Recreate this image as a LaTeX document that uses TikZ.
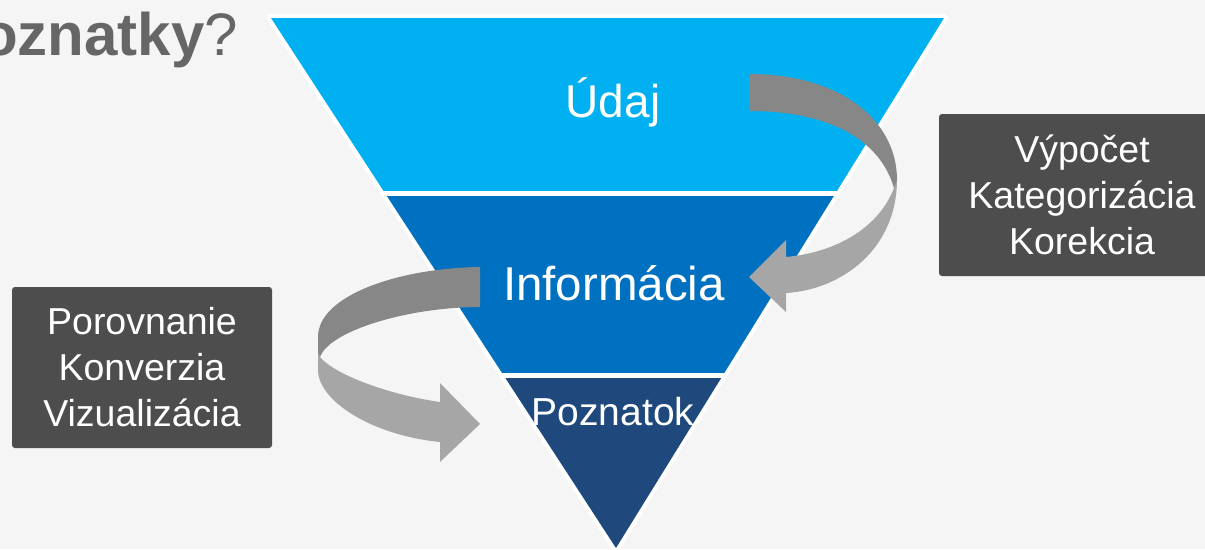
\documentclass[tikz,border=0pt]{standalone}
\usepackage{fontspec}
\setmainfont{Liberation Sans}
\usepackage{tikz}
\usetikzlibrary{positioning}
\definecolor{bgray}{HTML}{F5F5F5}
\definecolor{udajblue}{HTML}{00B0F0}
\definecolor{infoblue}{HTML}{0070C0}
\definecolor{poznblue}{HTML}{1F497D}
\definecolor{ribbondark}{HTML}{878787}
\definecolor{ribbonlight}{HTML}{A6A6A6}
\definecolor{boxgray}{HTML}{4D4D4D}
\definecolor{titlegray}{HTML}{666666}
\tikzstyle{bandtext}=[text=white,inner sep=0pt,anchor=base]
\tikzstyle{procbox}=[fill=boxgray,text=white,rounded corners=3pt,align=center,inner sep=0pt,font=\fontsize{37.5}{46}\selectfont]
\tikzstyle{darkpart}=[fill=ribbondark]
\tikzstyle{lightpart}=[fill=ribbonlight]

\begin{document}
\begin{tikzpicture}[x=1pt,y=-1pt]
\clip (0,0) rectangle (1205,549);
\fill[bgray] (0,0) rectangle (1205,549);
% title
\node[anchor=base east,inner sep=0pt,text=titlegray,font=\fontsize{60}{72}\selectfont] (title) at (238,55) {\textbf{oznatky}?};
% funnel
\fill[white,draw=white,line width=8pt,line join=round] (271,18) -- (944,18) -- (616,548) -- cycle;
\begin{scope}
\clip (271,18) -- (944,18) -- (616,548) -- cycle;
\fill[udajblue] (250,0) rectangle (960,191);
\fill[infoblue] (250,196) rectangle (960,373);
\fill[poznblue] (250,378) rectangle (960,560);
\end{scope}
\node[bandtext,font=\fontsize{46}{55}\selectfont] (udaj) at (613,117) {Údaj};
\node[bandtext,font=\fontsize{47.5}{57}\selectfont] (info) at (614,300) {Informácia};
\node[bandtext,font=\fontsize{39}{47}\selectfont] (pozn) at (613,425) {Poznatok};
% right ribbon
\fill[lightpart] (897,175) .. controls (899,250) and (840,290) .. (786,293) -- (786,312) -- (749,277) -- (786,240) -- (786,257) .. controls (840,252) and (880,225) .. (894,188) -- cycle;
\fill[darkpart] (749,74) .. controls (840,74) and (897,120) .. (897,180) -- (894,188) .. controls (880,140) and (830,111) .. (749,111) -- cycle;
% left ribbon
\fill[lightpart] (318,335) -- (318,370) .. controls (318,400) and (370,435) .. (440,442) -- (440,462) -- (480,424) -- (440,383) -- (440,402) .. controls (390,395) and (335,375) .. (320,357) -- cycle;
\fill[darkpart] (480,267) .. controls (400,268) and (318,295) .. (318,337) -- (318,352) -- (320,357) .. controls (330,330) and (410,307) .. (480,307) -- cycle;
% boxes
\node[procbox,minimum width=286pt,minimum height=162pt] (rightbox) at (1082,195) {Výpočet\\Kategorizácia\\Korekcia};
\node[procbox,minimum width=260pt,minimum height=161pt] (leftbox) at (142,367.5) {Porovnanie\\Konverzia\\Vizualizácia};
\end{tikzpicture}
\end{document}
